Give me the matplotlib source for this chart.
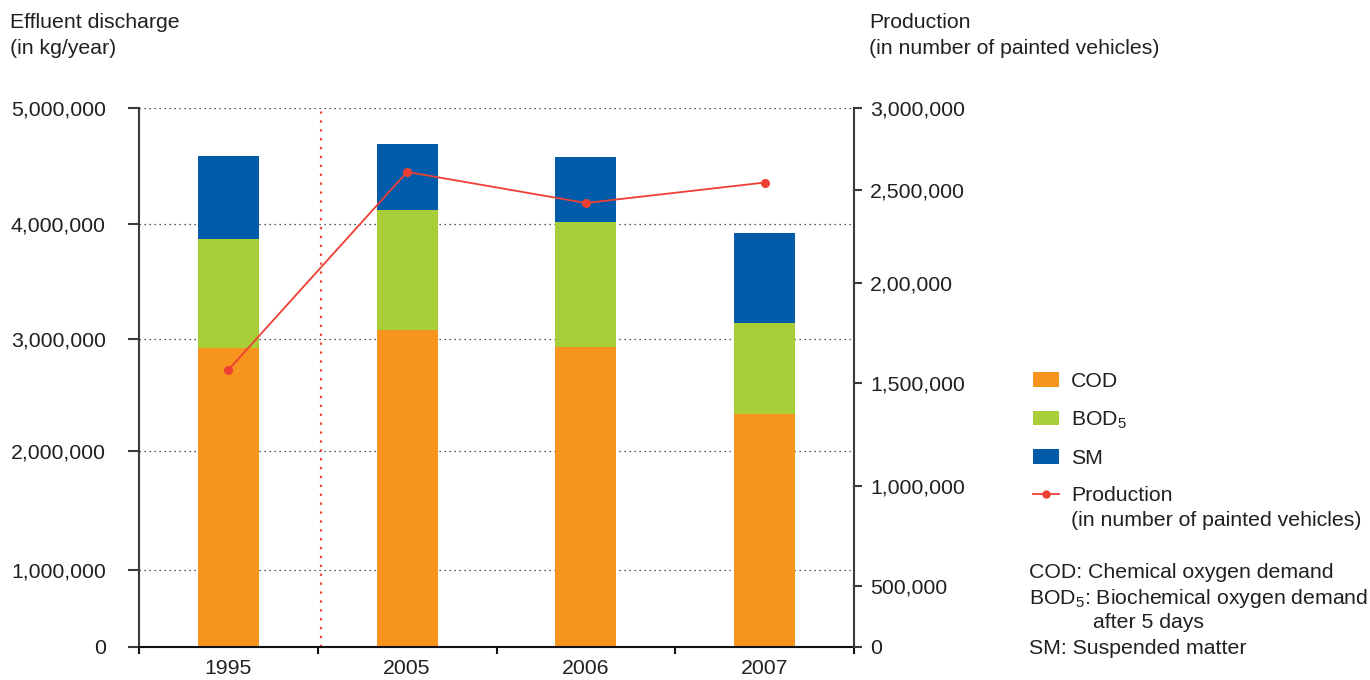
import numpy as np
import matplotlib
matplotlib.use("Agg")
import matplotlib.pyplot as plt
from matplotlib.lines import Line2D

plt.rcParams["font.family"] = ["Liberation Sans", "DejaVu Sans"]
plt.rcParams["mathtext.default"] = "regular"

# ── Data ──────────────────────────────────────────────────────────────────────
years = ["1995", "2005", "2006", "2007"]
cod = [2920000, 3080000, 2930000, 2330000]
bod5 = [950000, 1040000, 1090000, 810000]
sm = [720000, 570000, 560000, 780000]
production = [1565000, 2610000, 2430000, 2545000]

left_ticks = [0, 1000000, 2000000, 3000000, 4000000, 5000000]
left_labels = ["0", "1,000,000", "2,000,000", "3,000,000", "4,000,000", "5,000,000"]
right_ticks = [0, 500000, 1000000, 1500000, 2000000, 2500000, 3000000]
right_labels = ["0", "500,000", "1,000,000", "1,500,000", "2,00,000", "2,500,000", "3,000,000"]

# axis scales are drawn unevenly, so map tick values to axis fractions
left_scale_pos = [0, 0.143, 0.364, 0.571, 0.785, 1.0]
right_scale_pos = [0, 0.113, 0.299, 0.490, 0.675, 0.848, 1.0]

C_COD = "#F7941D"
C_BOD = "#A8CF38"
C_SM = "#005BAA"
C_RED = "#EE3F35"
C_TXT = "#231F20"
C_AX = "#3a3a3a"
FS = 15.3


def piecewise(vals, fracs):
    vals = np.asarray(vals, float)
    fracs = np.asarray(fracs, float)
    return (lambda v: np.interp(v, vals, fracs),
            lambda f: np.interp(f, fracs, vals))


fig = plt.figure(figsize=(13.7, 6.8), dpi=100)
ax = fig.add_axes([139 / 1370, 1 - 647 / 680, 715 / 1370, 539 / 680])
ax2 = ax.twinx()

ax.set_yscale("function", functions=piecewise(left_ticks, left_scale_pos))
ax2.set_yscale("function", functions=piecewise(right_ticks, right_scale_pos))

x = np.arange(len(years))
w = 0.34
b_cod = ax.bar(x, cod, w, color=C_COD, zorder=2)
b_bod = ax.bar(x, bod5, w, bottom=cod, color=C_BOD, zorder=2)
b_sm = ax.bar(x, sm, w, bottom=np.add(cod, bod5), color=C_SM, zorder=2)

ax.set_xlim(-0.5, len(years) - 0.5)
ax.set_ylim(left_ticks[0], left_ticks[-1])
ax2.set_ylim(right_ticks[0], right_ticks[-1])

# dotted gridlines from the left scale
for v in left_ticks[1:]:
    ax.axhline(v, color="#222222", lw=0.9, ls=(0, (1, 3)), zorder=1)

# separator between 1995 and the later years
ax.axvline(0.52, color=C_RED, lw=1.6, ls=(0, (1, 3)), zorder=1.5)

(line,) = ax2.plot(x, production, color=C_RED, lw=1.3, marker="o",
                   markersize=5.5, zorder=3)

# ── Axes styling ──────────────────────────────────────────────────────────────
for s in ["top", "right"]:
    ax.spines[s].set_visible(False)
for s in ["top", "left", "bottom"]:
    ax2.spines[s].set_visible(False)
ax.spines["left"].set_color(C_AX)
ax.spines["left"].set_linewidth(1.5)
ax.spines["bottom"].set_color("#111111")
ax.spines["bottom"].set_linewidth(1.5)
ax2.spines["right"].set_color(C_AX)
ax2.spines["right"].set_linewidth(1.5)

ax.set_yticks(left_ticks, left_labels)
ax.tick_params(axis="y", length=8, width=1.5, color=C_AX, pad=16,
               labelsize=FS, labelcolor=C_TXT)
ax2.set_yticks(right_ticks, right_labels)
ax2.tick_params(axis="y", length=6, width=1.5, color=C_AX, pad=5.5,
                labelsize=FS, labelcolor=C_TXT)

ax.set_xticks(x, years)
ax.set_xticks(np.arange(len(years) + 1) - 0.5, minor=True)
ax.tick_params(axis="x", which="major", length=0, pad=9,
               labelsize=FS, labelcolor=C_TXT)
ax.tick_params(axis="x", which="minor", length=5, width=1.5, color="#111111")

# ── Axis titles ───────────────────────────────────────────────────────────────
fig.text(10 / 1370, 1 - 22 / 680, "Effluent discharge", fontsize=FS,
         color=C_TXT, va="center")
fig.text(10 / 1370, 1 - 48 / 680, "(in kg/year)", fontsize=FS,
         color=C_TXT, va="center")
fig.text(869 / 1370, 1 - 22 / 680, "Production", fontsize=FS,
         color=C_TXT, va="center")
fig.text(869 / 1370, 1 - 48 / 680, "(in number of painted vehicles)",
         fontsize=FS, color=C_TXT, va="center")

# ── Legend ────────────────────────────────────────────────────────────────────
prod_handle = Line2D([], [], color=C_RED, lw=1.3, marker="o", markersize=5)
leg = fig.legend([b_cod, b_bod, b_sm, prod_handle],
                 ["COD", "BOD$_5$", "SM", "Production"],
                 loc="upper left", bbox_to_anchor=(1033 / 1370, 1 - 372 / 680),
                 frameon=False, fontsize=FS, borderpad=0, borderaxespad=0,
                 handlelength=1.2, handleheight=0.68, handletextpad=0.6,
                 labelspacing=0.86, labelcolor=C_TXT)
fig.text(1071 / 1370, 1 - 520 / 680, "(in number of painted vehicles)",
         fontsize=FS, color=C_TXT, va="center")

notes = [
    (1029, 573, "COD: Chemical oxygen demand"),
    (1029, 598, "BOD$_5$: Biochemical oxygen demand"),
    (1093, 622, "after 5 days"),
    (1029, 649, "SM: Suspended matter"),
]
for nx, ny, txt in notes:
    fig.text(nx / 1370, 1 - ny / 680, txt, fontsize=FS, color=C_TXT,
             va="center")

fig.savefig("out.png", dpi=100)
